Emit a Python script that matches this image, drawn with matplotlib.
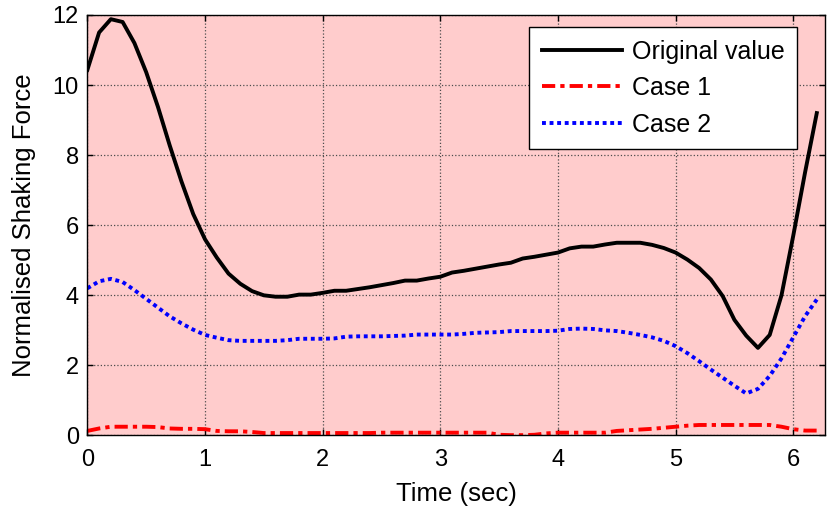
import numpy as np
import matplotlib
matplotlib.use("Agg")
import matplotlib.pyplot as plt

plt.rcParams['font.family'] = ['Liberation Sans', 'DejaVu Sans']

time = np.round(np.arange(0, 6.25, 0.1), 1)

original = [10.43, 11.5, 11.88, 11.8, 11.2, 10.37, 9.38, 8.28, 7.25, 6.32,
            5.6, 5.08, 4.62, 4.33, 4.12, 4.0, 3.96, 3.96, 4.02, 4.02,
            4.07, 4.13, 4.13, 4.18, 4.23, 4.29, 4.35, 4.42, 4.42, 4.48,
            4.53, 4.65, 4.7, 4.76, 4.82, 4.88, 4.93, 5.05, 5.1, 5.16,
            5.22, 5.34, 5.39, 5.39, 5.45, 5.5, 5.5, 5.5, 5.44, 5.35,
            5.22, 5.02, 4.78, 4.45, 3.98, 3.3, 2.85, 2.5, 2.87, 4.0,
            5.7, 7.5, 9.2]

case1 = [0.13, 0.2, 0.25, 0.25, 0.25, 0.25, 0.24, 0.2, 0.19, 0.19,
         0.18, 0.13, 0.12, 0.12, 0.1, 0.07, 0.07, 0.07, 0.07, 0.07,
         0.07, 0.07, 0.07, 0.07, 0.07, 0.08, 0.08, 0.08, 0.08, 0.08,
         0.08, 0.08, 0.08, 0.08, 0.08, 0.02, 0.01, 0.01, 0.02, 0.06,
         0.08, 0.08, 0.08, 0.08, 0.08, 0.13, 0.15, 0.17, 0.19, 0.22,
         0.25, 0.28, 0.3, 0.3, 0.3, 0.3, 0.3, 0.3, 0.3, 0.25,
         0.18, 0.14, 0.14]

case2 = [4.2, 4.4, 4.47, 4.38, 4.15, 3.9, 3.65, 3.4, 3.2, 3.02,
         2.87, 2.79, 2.72, 2.7, 2.7, 2.7, 2.7, 2.72, 2.76, 2.76,
         2.76, 2.77, 2.82, 2.83, 2.83, 2.83, 2.84, 2.85, 2.88, 2.88,
         2.88, 2.88, 2.9, 2.93, 2.94, 2.95, 2.98, 2.98, 2.98, 2.98,
         2.99, 3.04, 3.05, 3.04, 3.0, 2.98, 2.93, 2.87, 2.8, 2.7,
         2.55, 2.35, 2.12, 1.88, 1.65, 1.42, 1.2, 1.33, 1.7, 2.2,
         2.8, 3.4, 3.88]

labels = ["Original value", "Case 1", "Case 2"]
xticks = [0, 1, 2, 3, 4, 5, 6]
yticks = [0, 2, 4, 6, 8, 10, 12]

fig = plt.figure(figsize=(8.27, 5.13), dpi=100)
ax = fig.add_axes([0.1056, 0.1511, 0.892, 0.8197])
ax.set_facecolor('#FFCCCC')

lw = 2.8
ax.plot(time, original, color='black', lw=lw, label=labels[0])
ax.plot(time, case1, color='#FF0000', lw=lw, linestyle=(0, (3.4, 1.3, 1.1, 1.3)), label=labels[1])
ax.plot(time, case2, color='#0000FF', lw=lw, linestyle=(0, (1.0, 0.95)), label=labels[2])

ax.set_xlim(0, 6.27)
ax.set_ylim(0, 12)
ax.set_xticks(xticks)
ax.set_yticks(yticks)
ax.grid(True, color='#4d4d4d', linestyle=':', linewidth=0.9)
ax.tick_params(direction='in', length=4.5, width=1, top=True, right=True,
               labelsize=17)
ax.tick_params(axis='x', pad=10)
ax.tick_params(axis='y', pad=6)
for s in ax.spines.values():
    s.set_linewidth(1.0)
    s.set_color('black')

ax.set_xlabel("Time (sec)", fontsize=18.5, labelpad=8)
ax.set_ylabel("Normalised Shaking Force", fontsize=18.5, labelpad=12)

leg = ax.legend(loc='upper right', bbox_to_anchor=(0.962, 0.971), borderaxespad=0,
                fontsize=18, handlelength=3.2, handletextpad=0.4,
                labelspacing=0.5, fancybox=False, framealpha=1,
                edgecolor='black', borderpad=0.5)
leg.get_frame().set_linewidth(1.0)

fig.savefig("out.png", dpi=100, facecolor='white')
